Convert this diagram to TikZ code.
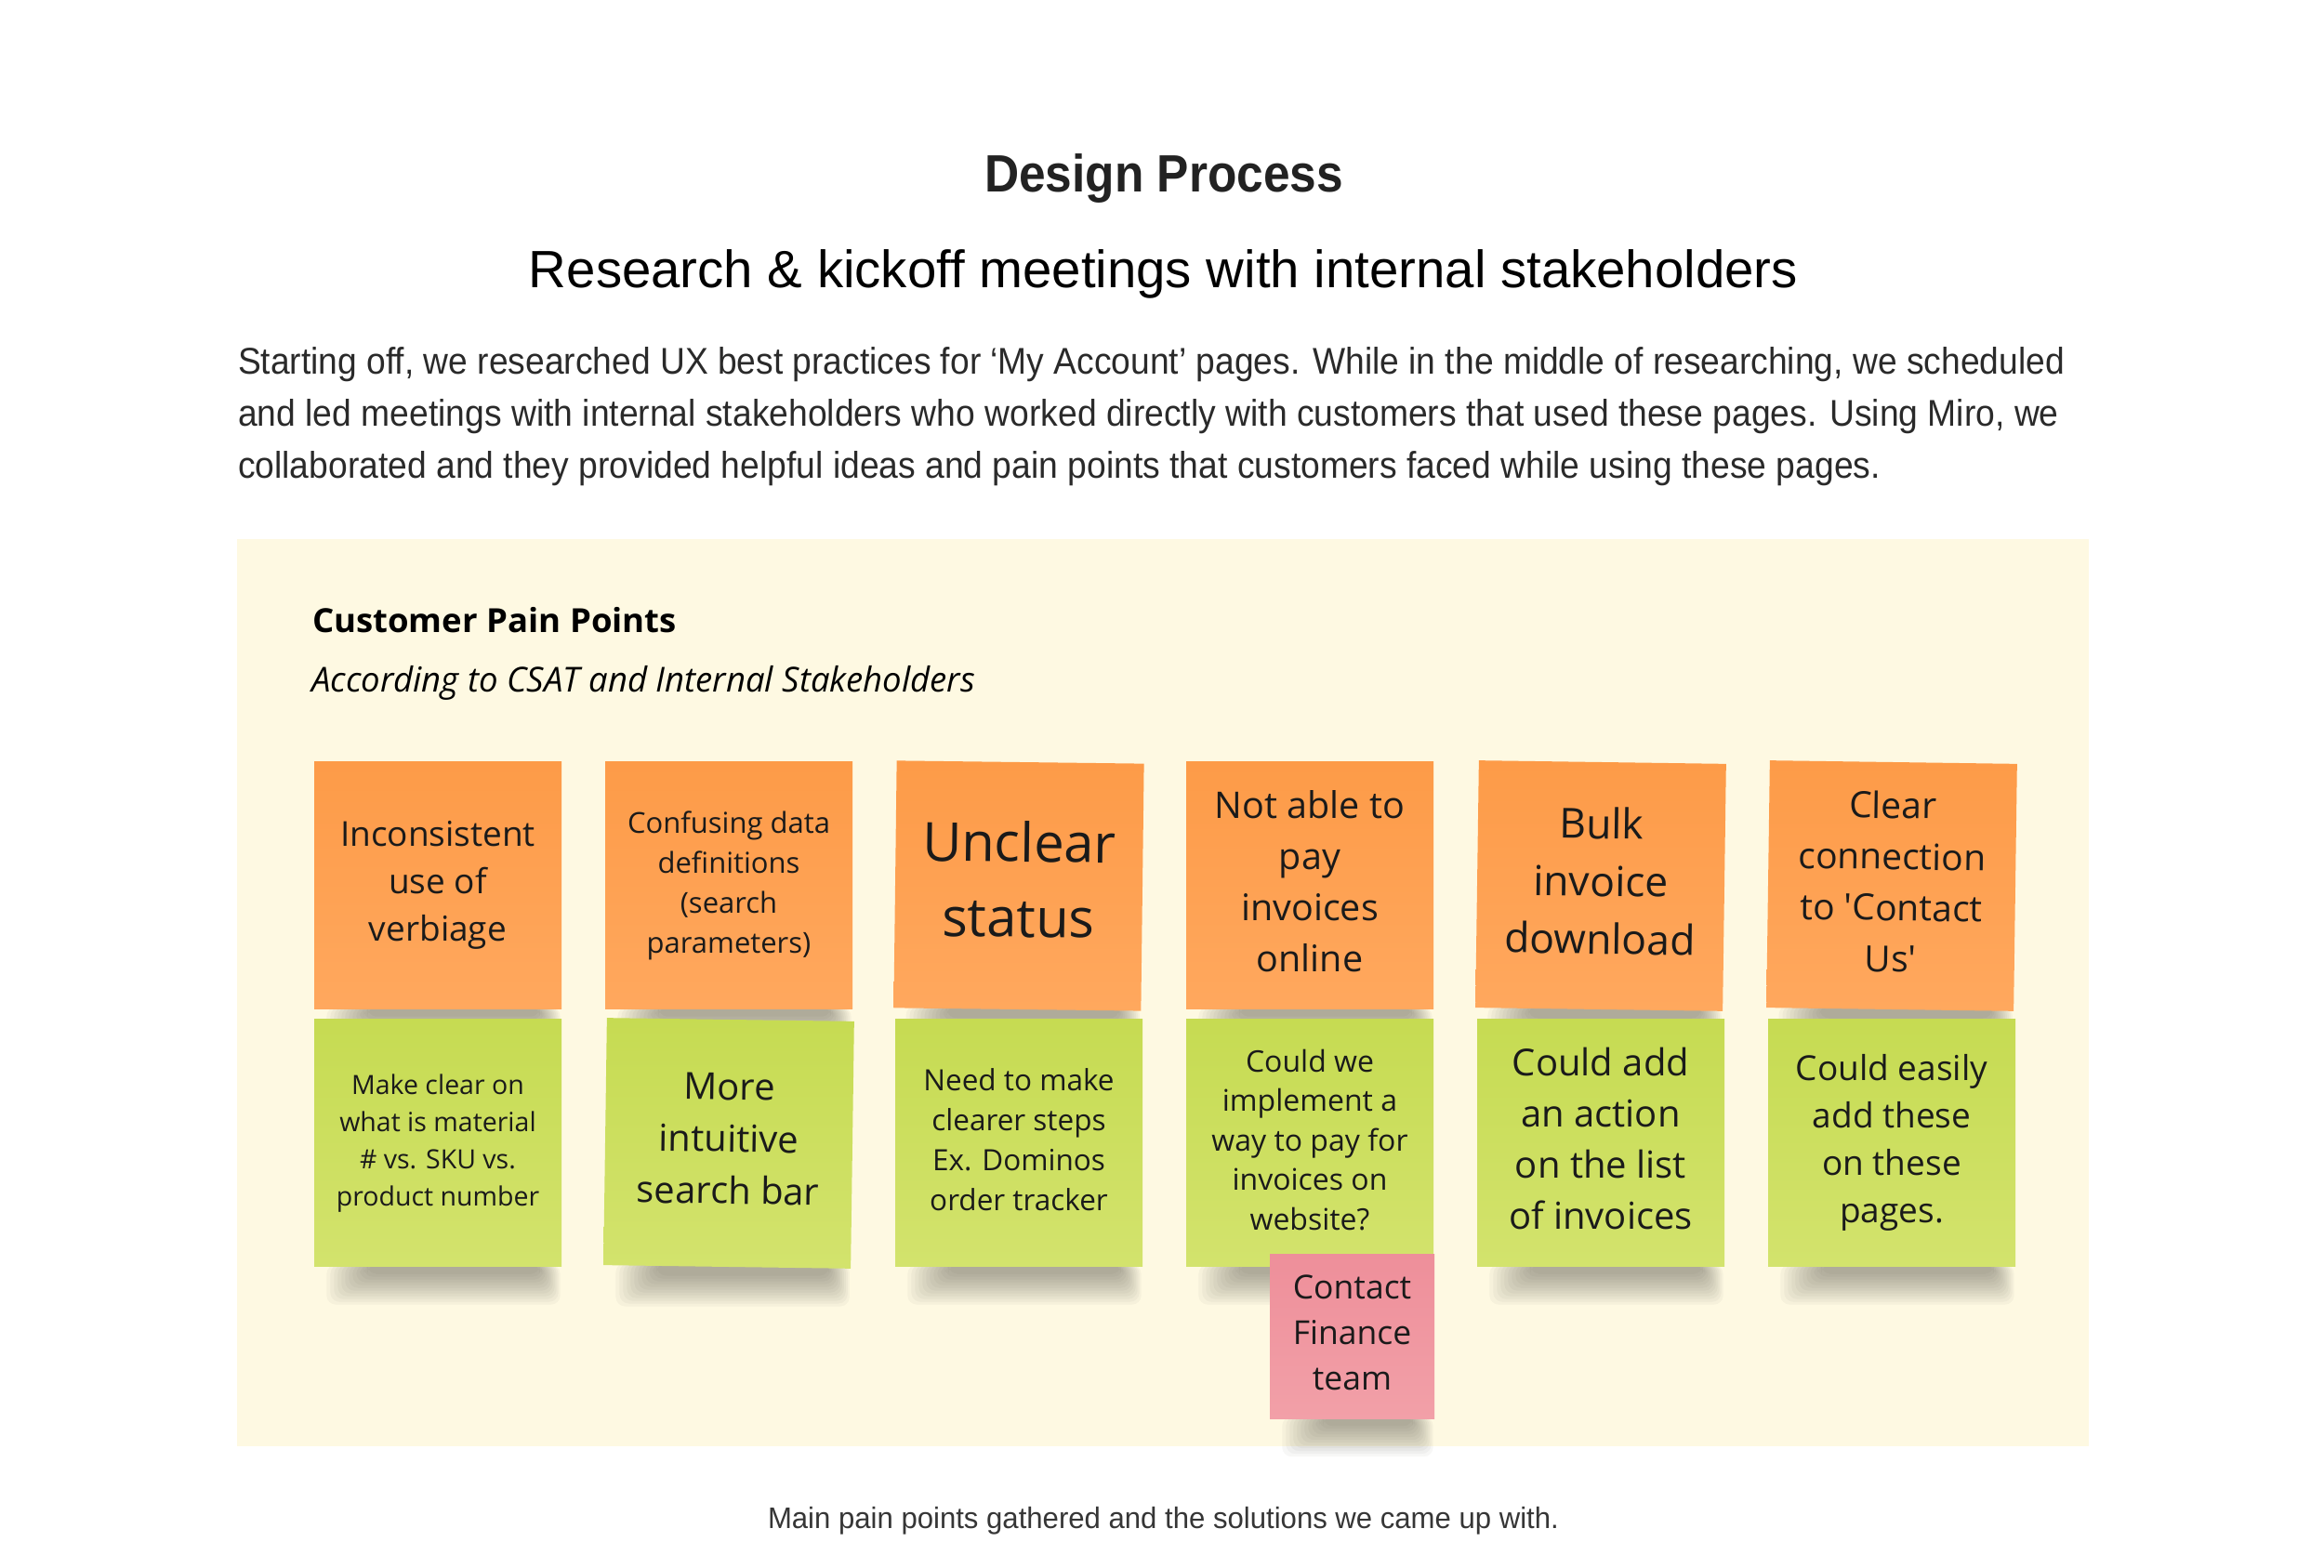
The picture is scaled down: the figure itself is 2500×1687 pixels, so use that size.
\documentclass[tikz,border=0pt]{standalone}
\usepackage{fontspec}
\usepackage{graphicx}
\usetikzlibrary{calc}
\newfontfamily\osans{Open Sans}
\newfontfamily\hsans{Liberation Sans}
\newlength\pxu \setlength\pxu{0.3pt}
\newcommand\fitw[2]{\resizebox{#1\pxu}{\height}{#2}}
\newcommand\nfont[2]{\osans\fontsize{#1\pxu}{#2\pxu}\selectfont}
\newcommand\sq{\XeTeXglyph\XeTeXcharglyph"27\relax}
\definecolor{panelc}{HTML}{FEF9E2}
\definecolor{orTop}{HTML}{FD9B48}
\definecolor{orBot}{HTML}{FFA85E}
\definecolor{grTop}{HTML}{C6DB52}
\definecolor{grBot}{HTML}{D3E36D}
\definecolor{pkTop}{HTML}{EE8F9A}
\definecolor{pkBot}{HTML}{F2A0A8}
\definecolor{notetext}{HTML}{1A1A1A}
\definecolor{titlec}{HTML}{222222}
\definecolor{bodyc}{HTML}{2A2A2A}
\definecolor{capc}{HTML}{363636}
\definecolor{shadowc}{HTML}{3A3A30}
\pgfdeclarelayer{panel}
\pgfdeclarelayer{shadow}
\pgfsetlayers{panel,shadow,main}
\tikzset{
  txt/.style={inner sep=0pt, outer sep=0pt},
  note/.style={inner sep=0pt, minimum size=79.8pt, align=center, text=notetext,
    execute at begin node=\rule{0pt}{0.8em},
    execute at end node=\rule[-0.25em]{0pt}{0pt}},
  onote/.style={note, top color=orTop, bottom color=orBot},
  gnote/.style={note, top color=grTop, bottom color=grBot},
  pnote/.style={note, minimum size=53.1pt, top color=pkTop, bottom color=pkBot},
  shadowlayer/.style={shadowc, opacity=0.04, rounded corners=3pt},
}
\begin{document}
\begin{tikzpicture}[x=0.3pt,y=-0.3pt]
\useasboundingbox (0,0) rectangle (2500,1687);
\begin{pgfonlayer}{panel}
\fill[white] (0,0) rectangle (2500,1687);
\fill[panelc] (255,580) rectangle (2247,1556);
\end{pgfonlayer}

% headings
\node[txt, anchor=base, text=titlec] (title) at (1252,207)
  {\hsans\bfseries\fontsize{56.5\pxu}{60\pxu}\selectfont\fitw{386}{Design Process}};
\node[txt, anchor=base, text=black] (sub) at (1251.5,310)
  {\hsans\fontsize{56.5\pxu}{60\pxu}\selectfont\fitw{1365}{Research \& kickoff meetings with internal stakeholders}};
\node[txt, anchor=base west, text=bodyc] (p1) at (256,402.7)
  {\hsans\fontsize{40\pxu}{56\pxu}\selectfont\fitw{1965}{Starting off, we researched UX best practices for ‘My Account’ pages. While in the middle of researching, we scheduled}};
\node[txt, anchor=base west, text=bodyc] (p2) at (256,458.3)
  {\hsans\fontsize{40\pxu}{56\pxu}\selectfont\fitw{1959}{and led meetings with internal stakeholders who worked directly with customers that used these pages. Using Miro, we}};
\node[txt, anchor=base west, text=bodyc] (p3) at (256,514.3)
  {\hsans\fontsize{40\pxu}{56\pxu}\selectfont\fitw{1767}{collaborated and they provided helpful ideas and pain points that customers faced while using these pages.}};

% panel headings
\node[txt, anchor=base west, text=black] (cpp) at (336,681)
  {\osans\bfseries\fontsize{35.7\pxu}{48\pxu}\selectfont\fitw{392}{Customer Pain Points}};
\node[txt, anchor=base west, text=black] (acc) at (335,744.6)
  {\osans\itshape\fontsize{37\pxu}{50\pxu}\selectfont\fitw{714}{According to CSAT and Internal Stakeholders}};

% orange notes
\node[onote, font={\nfont{37}{51}}] (o1) at (471,953) {Inconsistent\\use of\\verbiage};
\node[onote, font={\nfont{31}{43}}] (o2) at (784,953) {Confusing data\\definitions\\(search\\parameters)};
\node[onote, rotate=-0.7, font={\nfont{58}{81}}] (o3) at (1096,953) {Unclear\\status};
\node[onote, font={\nfont{39.5}{55}}] (o4) at (1409,953) {Not able to\\pay\\invoices\\online};
\node[onote, rotate=-0.8, font={\nfont{44.5}{62}}] (o5) at (1722,953) {Bulk\\invoice\\download};
\node[onote, rotate=-0.8, font={\nfont{39}{55}}] (o6) at (2035,953) {Clear\\connection\\to \sq Contact\\Us\sq};

% green notes
\node[gnote, font={\nfont{28.5}{40}}] (g1) at (471,1230) {Make clear on\\what is material\\\# vs. SKU vs.\\product number};
\node[gnote, rotate=-0.8, font={\nfont{40}{56}}] (g2) at (784,1230) {More\\intuitive\\search bar};
\node[gnote, font={\nfont{31.5}{43}}] (g3) at (1096,1230) {Need to make\\clearer steps\\Ex. Dominos\\order tracker};
\node[gnote, font={\nfont{32}{42.5}}] (g4) at (1409,1230) {Could we\\implement a\\way to pay for\\invoices on\\website?};
\node[gnote, font={\nfont{40}{55}}] (g5) at (1722,1230) {Could add\\an action\\on the list\\of invoices};
\node[gnote, font={\nfont{37}{51}}] (g6) at (2035,1230) {Could easily\\add these\\on these\\pages.};

% pink note
\node[pnote, font={\nfont{35.5}{49}}] (pk) at (1454.5,1438) {Contact\\Finance\\team};

% caption
\node[txt, anchor=base, text=capc] (cap) at (1251.5,1645)
  {\hsans\fontsize{32\pxu}{40\pxu}\selectfont\fitw{851}{Main pain points gathered and the solutions we came up with.}};

% soft shadows under the notes
\begin{pgfonlayer}{shadow}
\foreach \n in {o1,o2,o3,o4,o5,o6,g1,g2,g3,g4,g5,g6,pk}{
  \foreach \i in {0,...,11}{
    \fill[shadowlayer] ($(\n.south west)+({14+4*\i},-3)$) rectangle ($(\n.south east)+({-2-2*\i},{40-3*\i})$);
  }
}
\end{pgfonlayer}
\end{tikzpicture}
\end{document}
